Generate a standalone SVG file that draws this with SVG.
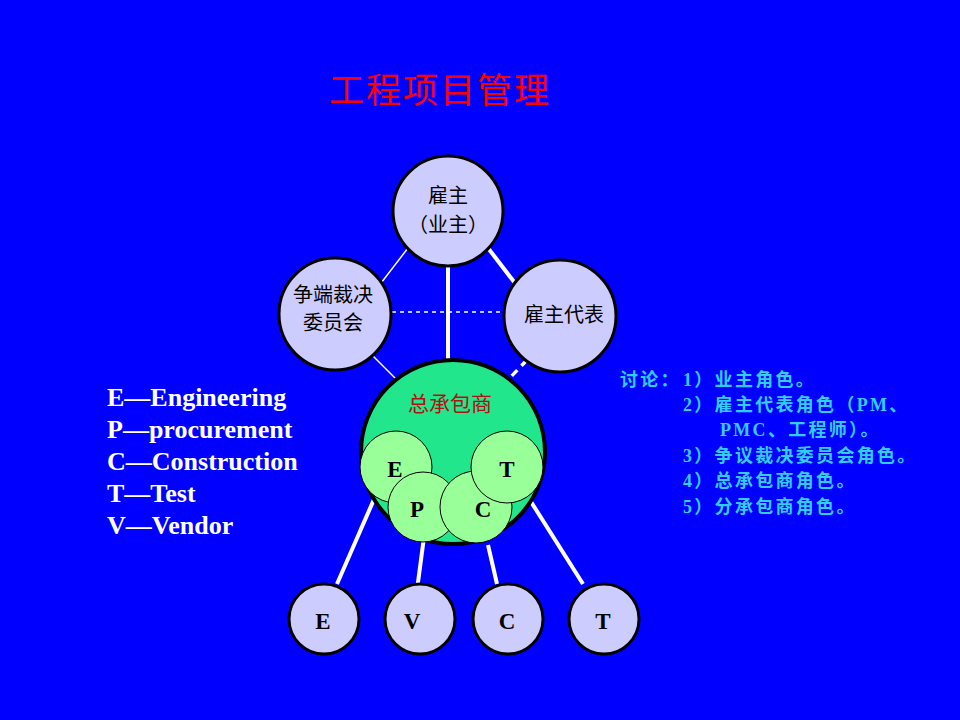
<svg xmlns="http://www.w3.org/2000/svg" width="960" height="720" viewBox="0 0 960 720">
<style>
.cn{font-family:"Noto Sans CJK SC","Noto Sans CJK TC",sans-serif;}
.node{fill:#CCCCFF;stroke:#000;stroke-width:3;}
.sub{fill:#99FF99;stroke:#000;stroke-width:1;}
.lbl{font-family:"Liberation Serif",serif;font-weight:bold;font-size:23px;fill:#000;text-anchor:middle;}
.nl{font-family:"Noto Sans CJK SC","Noto Sans CJK TC",sans-serif;font-size:20px;fill:#000;text-anchor:middle;}
.thick{stroke:#fff;stroke-width:4;fill:none;}
.thin{stroke:#fff;stroke-width:1.5;fill:none;}
.leg{font-family:"Liberation Serif",serif;font-weight:bold;font-size:26px;fill:#fff;}
.disc{font-family:"Liberation Serif","Noto Sans CJK SC",serif;font-weight:bold;font-size:18px;fill:#33CCFF;letter-spacing:2.3px;}
</style>
<rect width="960" height="720" fill="#0000FF"/>
<text class="cn" x="440" y="103" font-size="35" fill="#FF0000" text-anchor="middle" letter-spacing="2">工程项目管理</text>

<g id="connectors">
<line class="thin" x1="408" y1="248" x2="378" y2="287"/>
<line class="thick" x1="488" y1="248" x2="518" y2="287"/>
<line x1="392" y1="312" x2="503" y2="312" stroke="#fff" stroke-width="1.5" stroke-dasharray="4,4"/>
<line class="thick" x1="448" y1="263" x2="448" y2="362"/>
<line class="thin" x1="370" y1="353" x2="401" y2="384"/>
<line x1="527" y1="360" x2="504" y2="384" stroke="#fff" stroke-width="3.5" stroke-dasharray="8,6"/>
</g>

<g id="owner"><circle class="node" cx="448" cy="211" r="55"/>
<text class="nl" x="448" y="203">雇主</text><text class="nl" x="448" y="232">（业主）</text></g>
<g id="dab"><circle class="node" cx="335" cy="314" r="56"/>
<text class="nl" x="333" y="302" font-size="19">争端裁决</text><text class="nl" x="333" y="330" font-size="19">委员会</text></g>
<g id="rep"><circle class="node" cx="560" cy="316" r="56"/>
<text class="nl" x="564" y="322">雇主代表</text></g>

<g id="subconnectors">
<line class="thick" x1="375" y1="497" x2="337" y2="584"/>
<line class="thick" x1="424" y1="537" x2="417" y2="590"/>
<line class="thick" x1="488" y1="545" x2="497" y2="584"/>
<line class="thick" x1="528" y1="497" x2="583" y2="584"/>
</g>

<g id="epc">
<circle cx="453" cy="452" r="92" fill="#22E68C" stroke="#000" stroke-width="4"/>
<text class="cn" x="450" y="411" font-size="21" fill="#B01010" text-anchor="middle">总承包商</text>
<g id="sE"><circle class="sub" cx="396" cy="467" r="36"/><text class="lbl" x="395" y="477">E</text></g>
<g id="sP"><circle class="sub" cx="423" cy="507" r="35"/><text class="lbl" x="417" y="517">P</text></g>
<g id="sC"><circle class="sub" cx="476" cy="507" r="36"/><text class="lbl" x="483" y="517">C</text></g>
<g id="sT"><circle class="sub" cx="507" cy="467" r="36"/><text class="lbl" x="507" y="477">T</text></g>
</g>

<g id="bE"><circle class="node" cx="324" cy="619" r="35"/><text class="lbl" x="323" y="629">E</text></g>
<g id="bV"><circle class="node" cx="420" cy="619" r="35"/><text class="lbl" x="412" y="629">V</text></g>
<g id="bC"><circle class="node" cx="508" cy="619" r="35"/><text class="lbl" x="507" y="629">C</text></g>
<g id="bT"><circle class="node" cx="604" cy="619" r="35"/><text class="lbl" x="603" y="629">T</text></g>

<g id="legend">
<text class="leg" x="107" y="406">E—Engineering</text>
<text class="leg" x="107" y="438">P—procurement</text>
<text class="leg" x="107" y="470">C—Construction</text>
<text class="leg" x="107" y="502">T—Test</text>
<text class="leg" x="107" y="534">V—Vendor</text>
</g>

<g id="discussion">
<text class="disc" x="620" y="386">讨论：</text>
<text class="disc" x="683" y="386">1）业主角色。</text>
<text class="disc" x="683" y="411">2）雇主代表角色（PM、</text>
<text class="disc" x="720" y="436">PMC、工程师）。</text>
<text class="disc" x="683" y="462">3）争议裁决委员会角色。</text>
<text class="disc" x="683" y="487">4）总承包商角色。</text>
<text class="disc" x="683" y="513">5）分承包商角色。</text>
</g>
</svg>
